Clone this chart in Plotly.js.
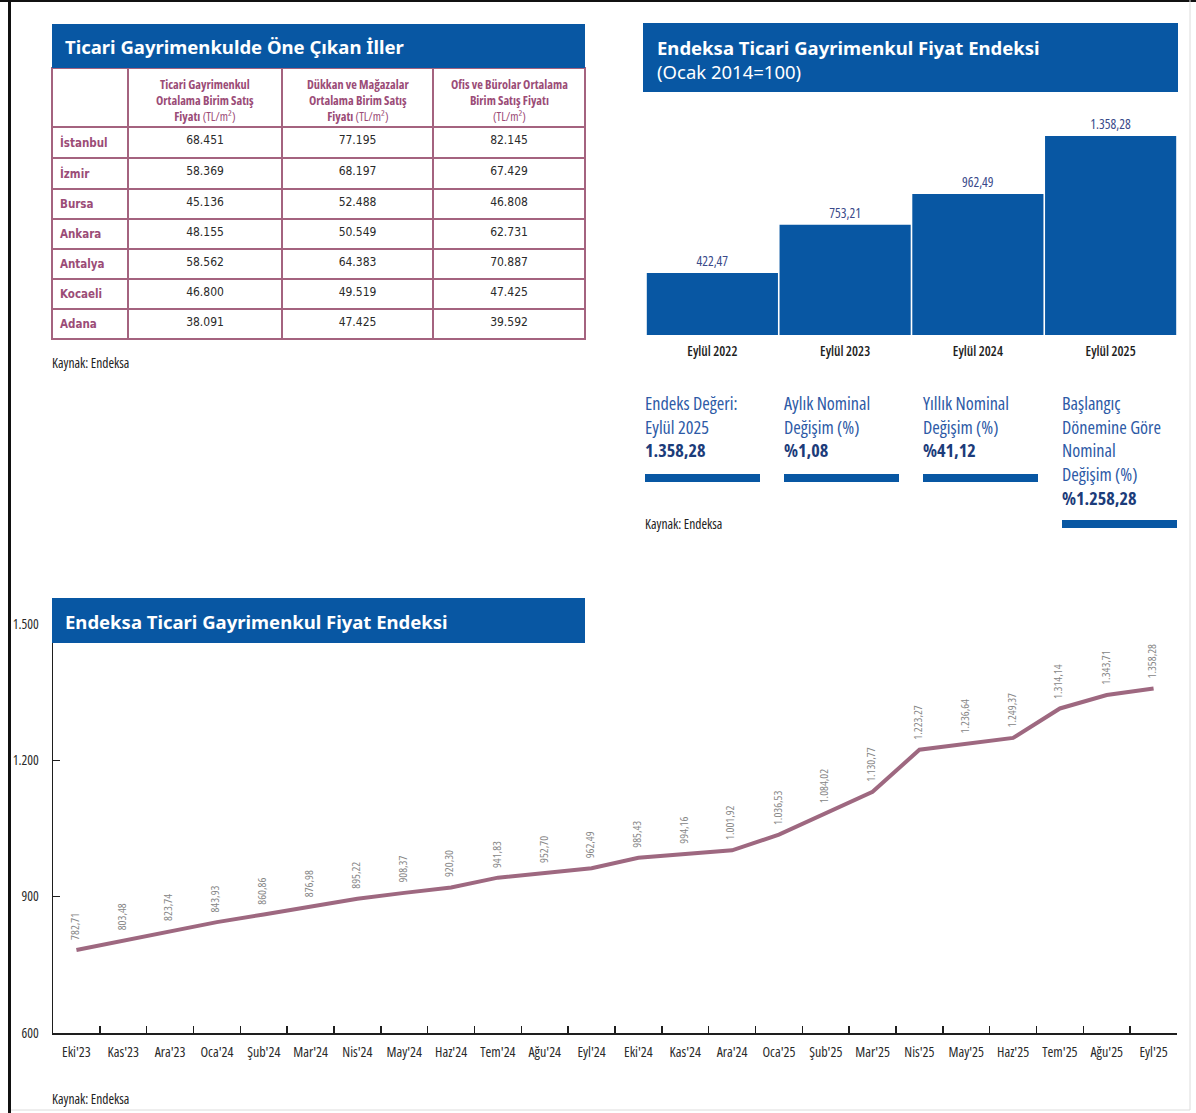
<!DOCTYPE html>
<html>
<head>
<meta charset="utf-8">
<script src="https://cdn.plot.ly/plotly-3.0.1.min.js"></script>
<style>
html,body{margin:0;padding:0;background:#fff;}
#chart{width:1196px;height:1113px;}
text[style*="Open Sans"]{font-stretch:80%;}
</style>
</head>
<body>
<div id="chart"></div>
<script>
// ---------- DATA ----------
const tableTitle = "Ticari Gayrimenkulde Öne Çıkan İller";
const tableHeaders = [
  [],
  ["<b>Ticari Gayrimenkul</b>", "<b>Ortalama Birim Satış</b>", "<b>Fiyatı</b> (TL/m²)"],
  ["<b>Dükkan ve Mağazalar</b>", "<b>Ortalama Birim Satış</b>", "<b>Fiyatı</b> (TL/m²)"],
  ["<b>Ofis ve Bürolar Ortalama</b>", "<b>Birim Satış Fiyatı</b>", "(TL/m²)"]
];
const cities = ["İstanbul", "İzmir", "Bursa", "Ankara", "Antalya", "Kocaeli", "Adana"];
const ticariPrice = [68451, 58369, 45136, 48155, 58562, 46800, 38091];
const dukkanPrice = [77195, 68197, 52488, 50549, 64383, 49519, 47425];
const ofisPrice = [82145, 67429, 46808, 62731, 70887, 47425, 39592];

const barTitle = "Endeksa Ticari Gayrimenkul Fiyat Endeksi";
const barSubtitle = "(Ocak 2014=100)";
const barCategories = ["Eylül 2022", "Eylül 2023", "Eylül 2024", "Eylül 2025"];
const barValues = [422.47, 753.21, 962.49, 1358.28];

const infoLabels = [
  ["Endeks Değeri:", "Eylül 2025"],
  ["Aylık Nominal", "Değişim (%)"],
  ["Yıllık Nominal", "Değişim (%)"],
  ["Başlangıç", "Dönemine Göre", "Nominal", "Değişim (%)"]
];
const infoValues = ["1.358,28", "%1,08", "%41,12", "%1.258,28"];

const lineTitle = "Endeksa Ticari Gayrimenkul Fiyat Endeksi";
const months = ["Eki'23","Kas'23","Ara'23","Oca'24","Şub'24","Mar'24","Nis'24","May'24","Haz'24","Tem'24","Ağu'24","Eyl'24",
                "Eki'24","Kas'24","Ara'24","Oca'25","Şub'25","Mar'25","Nis'25","May'25","Haz'25","Tem'25","Ağu'25","Eyl'25"];
const indexValues = [782.71, 803.48, 823.74, 843.93, 860.86, 876.98, 895.22, 908.37, 920.30, 941.83, 952.70, 962.49,
                     985.43, 994.16, 1001.92, 1036.53, 1084.02, 1130.77, 1223.27, 1236.64, 1249.37, 1314.14, 1343.71, 1358.28];
const yTicks = [600, 900, 1200, 1500];
const source = "Kaynak: Endeksa";

// ---------- HELPERS ----------
const W = 1196, H = 1113;
const px = x => x / W;
const py = y => 1 - y / H;
function thou(s){ return s.replace(/\B(?=(\d{3})+(?!\d))/g, "."); }
function fmtInt(n){ return thou(String(Math.round(n))); }
function fmt2(v){ const p = v.toFixed(2).split("."); return thou(p[0]) + "," + p[1]; }

const BLUE = "#0857a3";
const MAUVE = "#a4637f";
const MAUVE_TXT = "#9b4c77";
const NARROW = "'Open Sans', 'DejaVu Sans Condensed', sans-serif";
const TABLEF = "'DejaVu Sans Condensed', 'DejaVu Sans', sans-serif";
const TITLEF = "'Noto Sans', Lato, sans-serif";

// ---------- TRACES ----------
const colEdges = [52, 128, 282, 433, 585];
const tableTrace = {
  type: "table",
  domain: {x: [px(52), px(585)], y: [py(340), py(68)]},
  columnwidth: [76, 154, 151, 152],
  header: {
    values: tableHeaders.map(() => [""]),
    align: "center",
    height: 59,
    line: {color: MAUVE, width: 1.5},
    fill: {color: "#ffffff"},
    font: {family: TABLEF, size: 10, color: MAUVE_TXT}
  },
  cells: {
    values: [
      cities.map(c => "<b>" + c + "</b>"),
      ticariPrice.map(fmtInt),
      dukkanPrice.map(fmtInt),
      ofisPrice.map(fmtInt)
    ],
    align: ["left", "center", "center", "center"],
    height: 30,
    line: {color: MAUVE, width: 1.5},
    fill: {color: "#ffffff"},
    font: {family: TABLEF, size: [11.5, 12, 12, 12], color: [MAUVE_TXT, "#2a2a2a", "#2a2a2a", "#2a2a2a"]}
  }
};

const barTrace = {
  type: "bar",
  x: barCategories,
  y: barValues,
  xaxis: "x", yaxis: "y",
  marker: {color: BLUE, line: {width: 0}},
  text: barValues.map(fmt2),
  texttemplate: "%{text}",
  textposition: "outside",
  cliponaxis: false,
  textfont: {family: NARROW, size: 13.5, color: "#3a4a8a"},
  hoverinfo: "skip"
};

const lineTrace = {
  type: "scatter",
  mode: "lines",
  x: months,
  y: indexValues,
  xaxis: "x2", yaxis: "y2",
  line: {color: "#9e6880", width: 4},
  hoverinfo: "skip"
};

// ---------- ANNOTATIONS ----------
const annotations = [];
function txt(x, y, text, opts){
  annotations.push(Object.assign({
    xref: "paper", yref: "paper", x: px(x), y: py(y), text: text,
    showarrow: false, xanchor: "left", yanchor: "middle", align: "left"
  }, opts));
}
const titleFont = {family: TITLEF, size: 18.5, color: "#ffffff"};
txt(63, 47, "<b>" + tableTitle + "</b>", {font: titleFont});
txt(655, 48, "<b>" + barTitle + "</b>", {font: titleFont});
txt(655, 71, barSubtitle, {font: titleFont});
txt(63, 621, "<b>" + lineTitle + "</b>", {font: titleFont});
const srcFont = {family: NARROW, size: 13.5, color: "#222"};
txt(50, 363, source, {font: srcFont});
txt(643, 524, source, {font: srcFont});
txt(50, 1099, source, {font: srcFont});

// table header labels (centred lines, one text block per column)
tableHeaders.forEach((lines, c) => {
  if (!lines.length) return;
  const cx = (colEdges[c] + colEdges[c + 1]) / 2;
  txt(cx, 100, lines.join("<br>"), {xanchor: "center", align: "center",
      font: {family: NARROW, size: 12.3, color: MAUVE_TXT}});
});

// info blocks (one text block per column)
const infoX = [643, 782, 921, 1060];
const infoFs = 18.2, infoLH = infoFs * 1.3;
infoLabels.forEach((lines, i) => {
  const all = lines.concat(['<b><span style="color:#1c3c7a">' + infoValues[i] + '</span></b>']);
  const centre = 403 + (all.length - 1) * infoLH / 2;
  txt(infoX[i], centre, all.join("<br>"), {font: {family: NARROW, size: infoFs, color: "#2d5aa6"}});
});

months.forEach((m, i) => {
  annotations.push({
    xref: "x2", yref: "y2", x: m, y: indexValues[i], text: fmt2(indexValues[i]),
    textangle: -90, showarrow: false, xanchor: "center", yanchor: "bottom",
    yshift: 8, xshift: -2,
    font: {family: NARROW, size: 11.5, color: "#858585"}
  });
});

// ---------- SHAPES ----------
const shapes = [
  // page border
  {type: "rect", xref: "paper", yref: "paper", x0: px(0), x1: px(1196), y0: py(0), y1: py(2), fillcolor: "#111", line: {width: 0}, layer: "above"},
  {type: "rect", xref: "paper", yref: "paper", x0: px(8), x1: px(11), y0: py(1113), y1: py(0), fillcolor: "#111", line: {width: 0}, layer: "above"},
  {type: "line", xref: "paper", yref: "paper", x0: px(1190), x1: px(1190), y0: py(1110), y1: py(0), line: {color: "#dcdcdc", width: 1}},
  {type: "line", xref: "paper", yref: "paper", x0: px(11), x1: px(1190), y0: py(1110), y1: py(1110), line: {color: "#dcdcdc", width: 1}},
  // banners
  {type: "rect", xref: "paper", yref: "paper", x0: px(52), x1: px(585), y0: py(68), y1: py(24), fillcolor: BLUE, line: {width: 0}, layer: "above"},
  {type: "rect", xref: "paper", yref: "paper", x0: px(643), x1: px(1178), y0: py(92), y1: py(23), fillcolor: BLUE, line: {width: 0}, layer: "above"},
  {type: "rect", xref: "paper", yref: "paper", x0: px(52), x1: px(585), y0: py(643), y1: py(598), fillcolor: BLUE, line: {width: 0}, layer: "above"}
];
const barX = [645, 784, 923, 1062];
infoLabels.forEach((lines, i) => {
  const top = 403 + 23 * (lines.length + 1) + 2;
  shapes.push({type: "rect", xref: "paper", yref: "paper", x0: px(barX[i]), x1: px(barX[i] + 115),
               y0: py(top + 8), y1: py(top), fillcolor: BLUE, line: {width: 0}});
});

// ---------- LAYOUT ----------
const layout = {
  width: W, height: H,
  margin: {l: 0, r: 0, t: 0, b: 0},
  paper_bgcolor: "#ffffff",
  plot_bgcolor: "rgba(0,0,0,0)",
  separators: ",.",
  showlegend: false,
  bargap: 0.012,
  xaxis: {
    domain: [px(646), px(1177)], anchor: "y", type: "category",
    showline: false, showgrid: false, zeroline: false, ticks: "",
    ticklabelstandoff: 6, tickangle: 0,
    tickfont: {family: NARROW, size: 13.5, color: "#1e1e1e", weight: 600}, fixedrange: true
  },
  yaxis: {
    domain: [py(335), py(100.6)], anchor: "x", range: [0, 1600],
    visible: false, showgrid: false, zeroline: false, fixedrange: true
  },
  xaxis2: {
    domain: [px(53), px(1177)], anchor: "y2", type: "category", range: [-0.5, 23.5],
    showline: true, linecolor: "#1e1e1e", linewidth: 1.5,
    ticks: "inside", tickson: "boundaries", ticklen: 7, tickwidth: 1.5, tickcolor: "#1e1e1e",
    showgrid: false, zeroline: false, ticklabelstandoff: 6, tickangle: 0,
    tickfont: {family: NARROW, size: 14, color: "#2a2a2a"}, fixedrange: true
  },
  yaxis2: {
    domain: [py(1033), py(624)], anchor: "x2", range: [600, 1500],
    tickvals: yTicks, ticktext: yTicks.map(fmtInt),
    showline: true, linecolor: "#1e1e1e", linewidth: 1.5,
    ticks: "inside", ticklen: 7, tickwidth: 1.5, tickcolor: "#1e1e1e",
    showgrid: false, zeroline: false, ticklabelstandoff: 10,
    tickfont: {family: NARROW, size: 13.5, color: "#2a2a2a"}, fixedrange: true
  },
  annotations: annotations,
  shapes: shapes
};

Plotly.newPlot("chart", [tableTrace, barTrace, lineTrace], layout, {displayModeBar: false, staticPlot: true});
</script>
</body>
</html>
